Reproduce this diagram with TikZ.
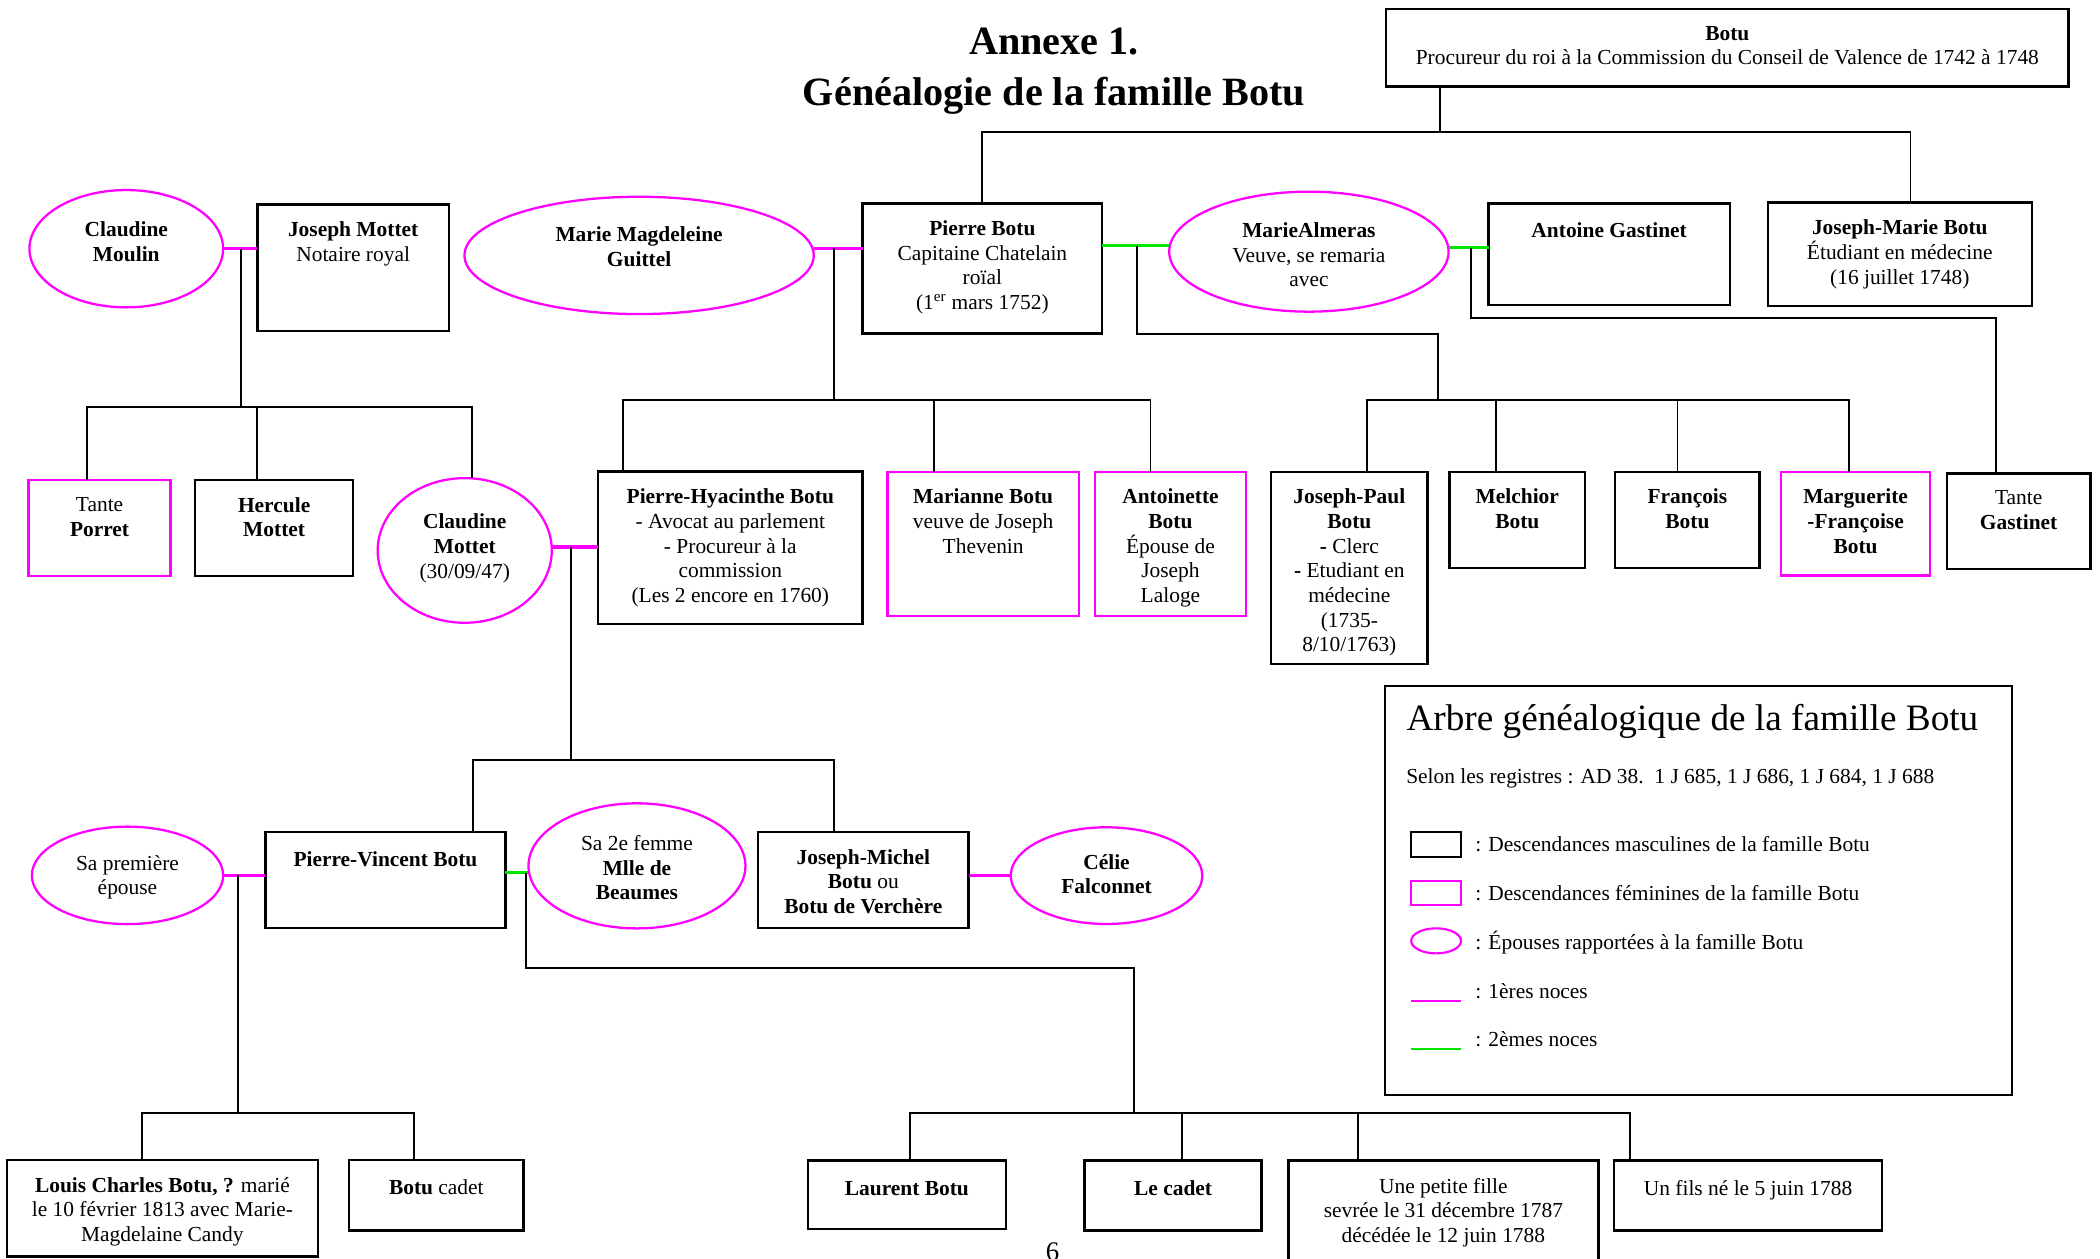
\documentclass[tikz,border=0pt]{standalone}
\usepackage{fontspec}
\setmainfont{Liberation Serif}
\usetikzlibrary{shapes.geometric,calc}
\definecolor{mag}{RGB}{255,0,255}
\definecolor{grn}{RGB}{0,230,0}
\tikzset{
  mbox/.style={draw=black, line width=1.8pt, rectangle, inner sep=0pt, outer sep=0pt},
  fembox/.style={draw=mag, line width=1.8pt, rectangle, inner sep=0pt, outer sep=0pt},
  spouse/.style={draw=mag, line width=1.7pt, ellipse, inner sep=0pt, outer sep=0pt},
  txt/.style={font=\fontsize{16}{18.4}\selectfont, align=center, inner sep=0pt, outer sep=0pt,
    execute at begin node=\strut, execute at end node=\strut},
  lt/.style={font=\fontsize{16}{18.4}\selectfont, inner sep=0pt, outer sep=0pt},
  link/.style={line width=1.4pt, black},
  wed1/.style={line width=2.6pt, mag},
  wed2/.style={line width=2pt, grn}
}
\newcommand\famb[7]{%
  \pgfmathsetmacro\bw{#5-#3}\pgfmathsetmacro\bh{#6-#4}%
  \node[#2, minimum width=\bw pt, minimum height=\bh pt, anchor=north west] (#1) at (#3,#4) {};
  \node[txt, anchor=north] (#1-t) at ([yshift=-13pt]#1.north) {#7};}
\newcommand\spo[7]{%
  \node[spouse, minimum width=#4pt, minimum height=#5pt] (#1) at (#2,#3) {};
  \node[txt] (#1-t) at (#2,#6) {#7};}
\begin{document}
\begin{tikzpicture}[x=1pt,y=-1pt]
\useasboundingbox (0,0) rectangle (1568,940);
\fill[white] (0,0) rectangle (1568,940);

% title
\node[font=\fontsize{30}{38.1}\selectfont\bfseries, align=center, inner sep=0pt, anchor=north,
  execute at begin node=\strut] (title) at (787,20.5) {Annexe 1.\\Généalogie de la famille Botu};

% row 0 / 1
\famb{botu}{mbox}{1035}{6.5}{1544.5}{64.5}{\textbf{Botu}\\Procureur du roi à la Commission du Conseil de Valence de 1742 à 1748}
\famb{jmot}{mbox}{192.2}{152.6}{335.2}{247.2}{\textbf{Joseph Mottet}\\Notaire royal}
\famb{pbotu}{mbox}{644}{151.8}{823}{249}{\textbf{Pierre Botu}\\Capitaine Chatelain\\roïal\\(1\textsuperscript{er} mars 1752)}
\famb{agast}{mbox}{1111.5}{151.8}{1291.5}{227.7}{\textbf{Antoine Gastinet}}
\famb{jmb}{mbox}{1320}{151.3}{1517}{228.3}{\textbf{Joseph-Marie Botu}\\Étudiant en médecine\\(16 juillet 1748)}
\spo{cmou}{94.3}{185.7}{144.6}{87.6}{183}{\textbf{Claudine}\\\textbf{Moulin}}
\spo{mmg}{477.2}{190.7}{260.8}{87.6}{187}{\textbf{Marie Magdeleine}\\\textbf{Guittel}}
\spo{malm}{977.3}{187.9}{208.6}{89.6}{193}{\textbf{MarieAlmeras}\\Veuve, se remaria\\avec}

% row 2
\famb{tpor}{fembox}{21.4}{358.4}{127.3}{430}{Tante\\\textbf{Porret}}
\famb{hmot}{mbox}{145.8}{358.4}{263.6}{430}{\textbf{Hercule}\\\textbf{Mottet}}
\spo{cmot}{347}{411}{130}{108}{410.4}{\textbf{Claudine}\\\textbf{Mottet}\\(30/09/47)}
\famb{phb}{mbox}{446.6}{352}{644}{466}{\textbf{Pierre-Hyacinthe Botu}\\- Avocat au parlement\\- Procureur à la\\commission\\(Les 2 encore en 1760)}
\famb{mar}{fembox}{662.7}{352.2}{805.5}{460}{\textbf{Marianne Botu}\\veuve de Joseph\\Thevenin}
\famb{ant}{fembox}{817.4}{352.2}{930.5}{460}{\textbf{Antoinette}\\\textbf{Botu}\\Épouse de\\Joseph\\Laloge}
\famb{jpb}{mbox}{949}{352.2}{1066}{495.8}{\textbf{Joseph-Paul}\\\textbf{Botu}\\\textbf{-} Clerc\\\textbf{-} Etudiant en\\médecine\\(1735-\\8/10/1763)}
\famb{mel}{mbox}{1082.3}{352.2}{1183.5}{424.1}{\textbf{Melchior}\\\textbf{Botu}}
\famb{fra}{mbox}{1206}{352.2}{1313.8}{424.1}{\textbf{François}\\\textbf{Botu}}
\famb{mfb}{fembox}{1330}{352.2}{1441}{429.8}{\textbf{Marguerite}\\\textbf{-Françoise}\\\textbf{Botu}}
\famb{tgas}{mbox}{1453.7}{353.4}{1560.8}{425}{Tante\\\textbf{Gastinet}}

% row 3
\spo{spre}{95.2}{653.6}{142.8}{72.8}{656}{Sa première\\épouse}
\famb{pvb}{mbox}{198.2}{621.2}{377.4}{693.1}{\textbf{Pierre-Vincent Botu}}
\spo{s2f}{475.6}{646.5}{162}{93.4}{650.5}{Sa 2e femme\\\textbf{Mlle de}\\\textbf{Beaumes}}
\famb{jmich}{mbox}{566}{621.2}{723.2}{693.1}{\textbf{Joseph-Michel}\\\textbf{Botu} ou\\\textbf{Botu de Verchère}}
\spo{celie}{826.2}{653.8}{143}{72.2}{655.5}{\textbf{Célie}\\\textbf{Falconnet}}

% row 4
\famb{lcb}{mbox}{5.2}{866.1}{237.3}{938.3}{\textbf{Louis Charles Botu, ?} marié\\le 10 février 1813 avec Marie-\\Magdelaine Candy}
\famb{bcad}{mbox}{260.8}{866.1}{390.8}{918.9}{\textbf{Botu} cadet}
\famb{laur}{mbox}{603.3}{866.6}{751}{917.6}{\textbf{Laurent Botu}}
\famb{lcad}{mbox}{809.9}{866.6}{941.9}{918.9}{\textbf{Le cadet}}
\famb{upf}{mbox}{962}{866.6}{1193.4}{946}{Une petite fille\\sevrée le 31 décembre 1787\\décédée le 12 juin 1788}
\famb{ufils}{mbox}{1205.3}{866.6}{1405.1}{918.9}{Un fils né le 5 juin 1788}

% connectors: Botu
\coordinate (c0) at (1075,98.5);
\coordinate (c0L) at (733.5,98.5);
\coordinate (c0R) at (1426.5,98.5);
\draw[link] (c0 |- botu.south) -- (c0);
\draw[link] (c0L |- pbotu.north) |- (c0R) -- (c0R |- jmb.north);

% Moulin - Mottet
\draw[wed1] (cmou.east) -- (cmou.east -| jmot.west);
\coordinate (c1) at (179.7,185.7);
\coordinate (c1b) at (179.7,304);
\coordinate (c1L) at (65.1,304);
\coordinate (c1M) at (191.7,304);
\coordinate (c1R) at (352.7,304);
\draw[link] (c1) -- (c1b);
\draw[link] (c1L |- tpor.north) |- (c1R) -- (c1R |- cmot.north);
\draw[link] (c1M) -- (c1M |- hmot.north);

% Guittel - Pierre
\coordinate (w2) at ([yshift=5.3pt]mmg.east);
\draw[wed1] (w2) -- (w2 -| pbotu.west);
\coordinate (c2) at (622.5,185.4);
\coordinate (c2b) at (622.5,298.7);
\coordinate (c2L) at (465,298.7);
\coordinate (c2M) at (697.7,298.7);
\coordinate (c2R) at (859,298.7);
\draw[link] (c2) -- (c2b);
\draw[link] (c2L |- phb.north) |- (c2R) -- (c2R |- ant.north);
\draw[link] (c2M) -- (c2M |- mar.north);

% Pierre - Almeras
\coordinate (w3) at ([yshift=4.5pt]malm.west);
\draw[wed2] (w3 -| pbotu.east) -- (w3);
\coordinate (c3) at (849,183.4);
\coordinate (c3a) at (1074,249.6);
\coordinate (c3b) at (1074,298.7);
\coordinate (c3L) at (1020.4,298.7);
\coordinate (c3M1) at (1116.8,298.7);
\coordinate (c3M2) at (1252.5,298.7);
\coordinate (c3R) at (1380.5,298.7);
\draw[link] (c3) |- (c3a) -- (c3b);
\draw[link] (c3L |- jpb.north) |- (c3R) -- (c3R |- mfb.north);
\draw[link] (c3M1) -- (c3M1 |- mel.north);
\draw[link] (c3M2) -- (c3M2 |- fra.north);

% Almeras - Gastinet
\coordinate (w4) at ([yshift=3pt]malm.east);
\draw[wed2] (w4) -- (w4 -| agast.west);
\coordinate (c4) at (1098.5,184.9);
\coordinate (c4a) at (1490,237.2);
\draw[link] (c4) |- (c4a) -- (c4a |- tgas.north);

% Claudine Mottet - Pierre-Hyacinthe
\coordinate (w5) at ([yshift=2.6pt]cmot.east);
\draw[wed1] (w5) -- (w5 -| phb.west);
\coordinate (c5) at (426.3,408.4);
\coordinate (c5b) at (426.3,567.2);
\coordinate (c5L) at (353,567.2);
\coordinate (c5R) at (622.6,567.2);
\draw[link] (c5) -- (c5b);
\draw[link] (c5L |- pvb.north) |- (c5R) -- (c5R |- jmich.north);

% premiere - Pierre-Vincent
\draw[wed1] (spre.east) -- (spre.east -| pvb.west);
\coordinate (c6) at (177.8,653.6);
\coordinate (c6b) at (177.8,831);
\coordinate (c6L) at (106.3,831);
\coordinate (c6R) at (309,831);
\draw[link] (c6) -- (c6b);
\draw[link] (c6L |- lcb.north) |- (c6R) -- (c6R |- bcad.north);

% Pierre-Vincent - 2e femme
\coordinate (w7) at ([yshift=-5.1pt]s2f.west);
\draw[wed2] (w7 -| pvb.east) -- (w7);
\coordinate (c7) at (392.8,651.6);
\coordinate (c7a) at (846.4,723);
\coordinate (c7b) at (846.4,831);
\coordinate (c7L) at (679.5,831);
\coordinate (c7M1) at (882.8,831);
\coordinate (c7M2) at (1014.2,831);
\coordinate (c7R) at (1217.2,831);
\draw[link] (c7) |- (c7a) -- (c7b);
\draw[link] (c7L |- laur.north) |- (c7R) -- (c7R |- ufils.north);
\draw[link] (c7M1) -- (c7M1 |- lcad.north);
\draw[link] (c7M2) -- (c7M2 |- upf.north);

% Joseph-Michel - Celie
\draw[wed1] (celie.west -| jmich.east) -- (celie.west);

% legend
\node[mbox, line width=1.6pt, minimum width=468.3pt, minimum height=305.6pt, anchor=north west] (leg) at (1034,512) {};
\node[font=\fontsize{27.8}{33}\selectfont, anchor=base west, inner sep=0pt] (legT) at (1050,545.8) {Arbre généalogique de la famille Botu};
\node[lt, anchor=base west] (legS) at (1050,584.9) {Selon les registres : AD 38.\ \ 1 J 685, 1 J 686, 1 J 684, 1 J 688};
\node[mbox, line width=1.6pt, minimum width=37.2pt, minimum height=18.6pt, anchor=north west] (kA) at (1053.7,621.5) {};
\node[lt, anchor=base west] (kAt) at (1101.6,636) {: Descendances masculines de la famille Botu};
\node[fembox, line width=1.6pt, minimum width=37.2pt, minimum height=18.4pt, anchor=north west] (kB) at (1053.7,657.6) {};
\node[lt, anchor=base west] (kBt) at (1101.6,672.5) {: Descendances féminines de la famille Botu};
\node[spouse, line width=1.6pt, minimum width=37.2pt, minimum height=18.7pt] (kC) at (1072.3,702.5) {};
\node[lt, anchor=base west] (kCt) at (1101.6,708.8) {: Épouses rapportées à la famille Botu};
\coordinate (kD1) at (1053.7,747.2);
\coordinate (kD2) at (1090.9,747.2);
\draw[mag, line width=1.5pt] (kD1) -- (kD2);
\node[lt, anchor=base west] (kDt) at (1101.6,745.4) {: 1ères noces};
\coordinate (kE1) at (1053.7,783);
\coordinate (kE2) at (1090.9,783);
\draw[grn, line width=1.5pt] (kE1) -- (kE2);
\node[lt, anchor=base west] (kEt) at (1101.6,781.5) {: 2èmes noces};

% page number
\node[font=\fontsize{20}{24}\selectfont, anchor=base, inner sep=0pt] (pg) at (786,941) {6};
\end{tikzpicture}
\end{document}
